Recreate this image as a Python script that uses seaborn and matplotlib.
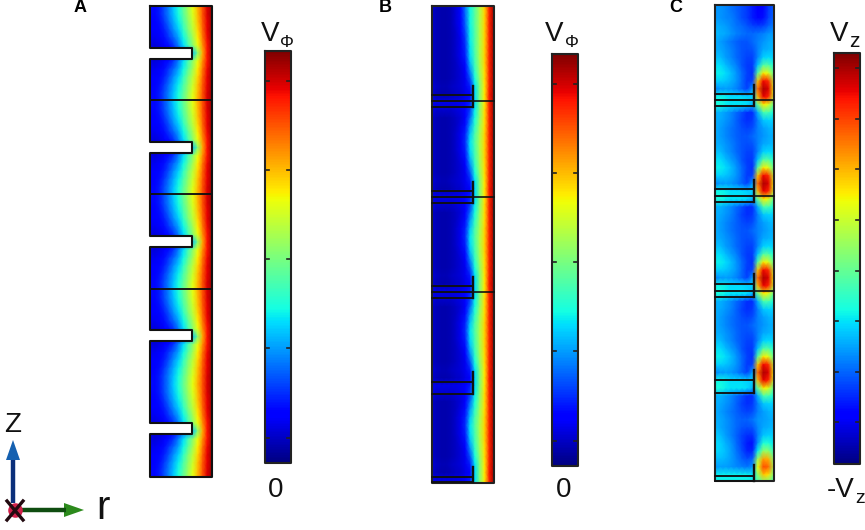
import numpy as np
import matplotlib
matplotlib.use("Agg")
import matplotlib.pyplot as plt
import seaborn as sns

# valori, una riga ogni 7.9 px circa
a_period = [
    [.14, .13, .15, .20, .26, .33, .39, .47, .55, .63, .72, .82, .92, .98],
    [.13, .13, .15, .20, .26, .32, .38, .46, .54, .62, .71, .82, .92, .98],
    [.12, .12, .14, .18, .24, .30, .36, .44, .52, .60, .70, .81, .91, .98],
    [.11, .11, .13, .16, .21, .27, .33, .41, .50, .58, .68, .80, .91, .98],
    [.10, .10, .11, .14, .18, .23, .29, .37, .46, .55, .66, .78, .90, .98],
    [.09, .08, .09, .11, .14, .18, .25, .34, .43, .52, .63, .75, .89, .98],
    [.08, .08, .08, .09, .11, .14, .18, .24, .28, .32, .51, .72, .89, .98],
    [.09, .08, .09, .11, .14, .18, .25, .34, .43, .52, .63, .75, .89, .98],
    [.10, .10, .11, .14, .18, .23, .29, .37, .46, .55, .66, .78, .90, .98],
    [.11, .11, .13, .16, .21, .27, .33, .41, .50, .58, .68, .80, .91, .98],
    [.12, .12, .14, .18, .24, .30, .36, .44, .52, .60, .70, .81, .91, .98],
    [.13, .13, .15, .20, .26, .32, .38, .46, .54, .62, .71, .82, .92, .98],
]

b_top = [
    [.07, .05, .04, .04, .05, .08, .13, .24, .37, .46, .56, .68, .87, .98],
    [.07, .05, .04, .04, .05, .08, .13, .24, .37, .46, .56, .68, .87, .98],
    [.07, .05, .04, .04, .05, .08, .13, .23, .37, .46, .56, .68, .87, .98],
    [.07, .05, .04, .04, .05, .08, .12, .22, .37, .46, .56, .68, .87, .98],
    [.07, .05, .04, .04, .05, .07, .11, .20, .36, .45, .56, .68, .87, .98],
    [.07, .05, .04, .04, .05, .07, .10, .18, .36, .45, .56, .68, .87, .98],
]
b_period = [
    [.07, .05, .04, .04, .05, .07, .10, .17, .35, .45, .56, .68, .87, .98],
    [.07, .05, .04, .04, .05, .07, .10, .16, .34, .44, .56, .68, .87, .98],
    [.07, .05, .04, .04, .05, .06, .09, .14, .31, .43, .55, .68, .87, .98],
    [.07, .05, .04, .04, .05, .06, .08, .12, .26, .41, .54, .67, .87, .98],
    [.07, .05, .04, .04, .05, .06, .08, .10, .20, .38, .52, .67, .87, .98],
    [.08, .06, .05, .05, .06, .07, .08, .10, .15, .35, .50, .66, .87, .98],
    [.07, .05, .04, .04, .05, .06, .07, .09, .12, .34, .50, .66, .88, .98],
    [.10, .09, .09, .09, .09, .09, .10, .11, .15, .34, .50, .66, .87, .98],
    [.09, .07, .07, .07, .07, .08, .09, .11, .18, .36, .51, .67, .87, .98],
    [.07, .05, .04, .04, .05, .06, .08, .12, .23, .38, .52, .67, .87, .98],
    [.07, .05, .04, .04, .05, .06, .09, .14, .28, .41, .54, .67, .87, .98],
    [.07, .05, .04, .04, .05, .07, .10, .16, .32, .44, .55, .68, .87, .98],
]

c_top = [
    [.27, .27, .26, .24, .22, .20, .18, .15, .12, .13, .18, .22],
    [.27, .27, .26, .24, .22, .20, .18, .15, .12, .13, .18, .22],
    [.28, .27, .26, .25, .23, .20, .18, .15, .13, .14, .19, .23],
    [.30, .29, .28, .26, .24, .23, .21, .19, .18, .19, .22, .25],
    [.31, .30, .29, .27, .25, .24, .23, .23, .24, .25, .27, .28],
]
c_period = [
    [.30, .28, .26, .24, .22, .21, .21, .23, .25, .27, .29, .30],
    [.30, .29, .27, .25, .23, .21, .20, .21, .25, .29, .30, .31],
    [.32, .31, .28, .26, .23, .21, .19, .19, .26, .33, .34, .33],
    [.35, .34, .31, .28, .25, .21, .18, .18, .32, .45, .45, .38],
    [.36, .36, .34, .31, .27, .23, .19, .17, .46, .66, .62, .45],
    [.33, .33, .32, .30, .27, .23, .18, .19, .70, .90, .86, .58],
    [.26, .27, .28, .27, .25, .22, .19, .28, .80, .96, .92, .64],
    [.37, .37, .36, .34, .34, .34, .33, .33, .72, .91, .87, .60],
    [.38, .38, .36, .35, .35, .35, .34, .30, .48, .66, .62, .45],
    [.30, .30, .28, .26, .23, .20, .17, .17, .30, .43, .43, .37],
    [.30, .29, .27, .25, .22, .19, .17, .18, .25, .32, .33, .33],
    [.30, .28, .26, .24, .22, .20, .19, .20, .25, .28, .30, .31],
]
c_bottom = [
    [.30, .29, .27, .25, .23, .22, .22, .24, .27, .28, .29, .30],
    [.31, .29, .27, .25, .23, .21, .20, .21, .26, .29, .30, .31],
    [.33, .31, .28, .25, .22, .19, .17, .17, .25, .32, .33, .33],
    [.34, .33, .30, .27, .23, .19, .15, .14, .27, .39, .39, .35],
    [.34, .33, .31, .28, .24, .20, .16, .16, .36, .53, .52, .40],
    [.31, .31, .30, .28, .25, .22, .20, .22, .55, .74, .72, .50],
    [.28, .28, .28, .27, .26, .25, .24, .27, .63, .83, .80, .55],
    [.36, .36, .36, .36, .36, .36, .36, .35, .52, .70, .67, .48],
    [.37, .37, .37, .37, .37, .37, .37, .36, .42, .50, .48, .42],
]

a_notches = [(48, 59), (142, 153), (236, 247), (330, 341), (423, 434)]
a_lines = [100, 194, 288.5]

# y: inizio box, righe interne, fine box, riga che continua a destra
b_boxes = [(86, [95, 101], 107, 101), (182, [191, 197], 203, 197),
           (277, [286, 292], 298, 292), (372, [382], 394, None), (467, [477], 482, None)]
c_boxes = [(85, [94, 100], 106, 100), (180, [189, 195.5], 202, 195.5),
           (274, [284, 290.5], 297, 290.5), (370, [379.5], 393, None), (465, [476], 481, None)]

a_ticks = [81, 170, 259, 348, 438]
b_ticks = [84, 173, 262, 351, 441]
c_ticks = [68, 119, 169, 220, 271, 321, 372, 422]

W, H = 865, 530
LW = 1.5
fig = plt.figure(figsize=(W / 100, H / 100), dpi=100)
plt.rcParams["font.family"] = ["Liberation Sans", "DejaVu Sans"]


def px_axes(x0, y0, x1, y1):
    return fig.add_axes([x0 / W, 1 - y1 / H, (x1 - x0) / W, (y1 - y0) / H])


def field(table, x0, y0, x1, y1, row_from, row_to):
    ax = px_axes(x0, y0, x1, y1)
    sns.heatmap(np.array(table), cmap="jet", vmin=0, vmax=1, cbar=False,
                xticklabels=False, yticklabels=False, ax=ax, shading="gouraud")
    ax.set_xlim(0, len(table[0]) - 1)
    ax.set_ylim(row_to, row_from)
    return ax


def scale_bar(x0, y0, x1, y1):
    ax = px_axes(x0, y0, x1, y1)
    shades = np.linspace(1, 0, 256).reshape(-1, 1)
    sns.heatmap(shades, cmap="jet", vmin=0, vmax=1, cbar=False,
                xticklabels=False, yticklabels=False, ax=ax)


# campi
a_table = a_period * 5 + a_period[:1]
field(a_table, 150, 6, 212, 477, 0, 59.81)

b_table = (b_top + b_period * 5)[:63]
field(b_table, 432, 6, 494, 483, 6 / 7.875, 483 / 7.875)

c_table = c_top + c_period * 4 + c_bottom
field(c_table, 715, 5, 774, 481, (5 - 2.4) / 7.875, (481 - 2.4) / 7.875)

scale_bar(265, 51, 291, 463)
scale_bar(552, 54, 578, 466)
scale_bar(834, 53, 860, 464)

# disegno in pixel sopra a tutto
over = fig.add_axes([0, 0, 1, 1], zorder=10)
over.set_xlim(0, W)
over.set_ylim(H, 0)
over.axis("off")
over.patch.set_visible(False)

# pannello A
outline_x = [150, 212, 212, 150]
outline_y = [6, 6, 477, 477]
for top, bottom in a_notches[::-1]:
    outline_x += [150, 192, 192, 150]
    outline_y += [bottom, bottom, top, top]
outline_x.append(150)
outline_y.append(6)
for top, bottom in a_notches:
    over.fill([149, 192, 192, 149], [top, top, bottom, bottom], color="white", lw=0)
over.plot(outline_x, outline_y, color="#111111", lw=LW, solid_joinstyle="round")
for y in a_lines:
    over.plot([150, 212], [y, y], color="#111111", lw=LW * 0.9)


def boxes(ax, box_list, x0, xv, x1, y0, y1):
    ax.plot([x0, x1, x1, x0, x0], [y0, y0, y1, y1, y0], color="#222222", lw=LW)
    for top, inner, bottom, through in box_list:
        ax.plot([xv, xv], [top, bottom], color="#111111", lw=LW + 0.2)
        for y in inner + [bottom]:
            ax.plot([x0, xv], [y, y], color="#111111", lw=LW * 0.9)
        if through is not None:
            ax.plot([xv, x1], [through, through], color="#111111", lw=LW * 0.8)


boxes(over, b_boxes, 432, 473.3, 494, 6, 482.5)
boxes(over, c_boxes, 715, 754, 774, 5, 481)


def bar_frame(ax, x0, y0, x1, y1, ticks):
    ax.plot([x0, x1, x1, x0, x0], [y0, y0, y1, y1, y0], color="#222222", lw=LW)
    for y in ticks:
        ax.plot([x0, x0 + 4], [y, y], color="#222222", lw=LW * 0.8)
        ax.plot([x1 - 4, x1], [y, y], color="#222222", lw=LW * 0.8)


bar_frame(over, 265, 51, 291, 463, a_ticks)
bar_frame(over, 552, 54, 578, 466, b_ticks)
bar_frame(over, 834, 53, 860, 464, c_ticks)

# testi
for label, x in zip(["A", "B", "C"], [80, 385, 676]):
    over.text(x, 8, label, fontsize=13, fontweight="bold", ha="center", va="center")

big = dict(fontsize=20, va="baseline", ha="left", color="#111111")
small = dict(fontsize=12.5, va="baseline", ha="left", color="#111111")
over.text(261, 41, "V", **big)
over.text(280, 47, "Φ", **small)
over.text(545, 41, "V", **big)
over.text(565, 47, "Φ", **small)
over.text(830, 41, "V", **big)
over.text(849, 47, "z", fontsize=15, va="baseline", ha="left", color="#111111")
over.text(268, 497, "0", **big)
over.text(556, 497, "0", **big)
over.text(827, 497, "-V", **big)
over.text(855, 503, "z", fontsize=14, va="baseline", ha="left", color="#111111")

# assi r-z in basso a sinistra
over.text(4, 432, "Z", **big)
over.text(96, 519, "r", fontsize=29, va="baseline", ha="left", color="#111111")
over.plot([13, 13], [460, 503], color="#0b2f7a", lw=3.2, solid_capstyle="butt")
over.fill([13, 6, 20], [440, 460, 460], color="#1560b0", lw=0)
over.plot([22, 66], [510, 510], color="#0f4d10", lw=3.2, solid_capstyle="butt")
over.fill([84, 64, 64], [510, 503, 517], color="#2c8a1c", lw=0)
over.scatter([15], [510], s=110, color="#d0204a", zorder=5, lw=0)
over.plot([7, 23], [501, 520], color="#220a10", lw=2.4, zorder=6)
over.plot([7, 23], [520, 501], color="#220a10", lw=2.4, zorder=6)

plt.savefig("out.png", dpi=100)
